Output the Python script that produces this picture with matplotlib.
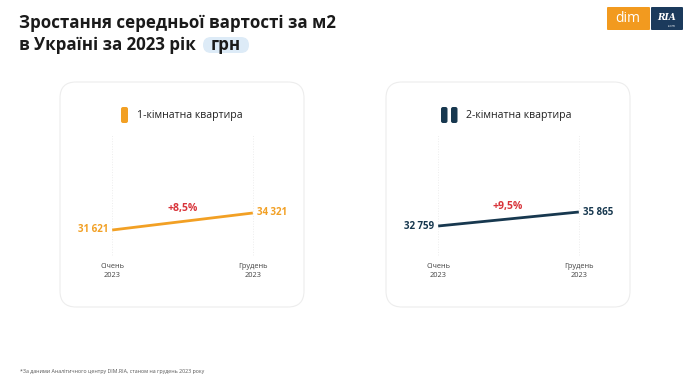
import matplotlib
matplotlib.use("Agg")
import matplotlib.pyplot as plt
from matplotlib.patches import FancyBboxPatch

# data
periods = ["Січень\n2023", "Грудень\n2023"]
one_room = [31621, 34321]
two_room = [32759, 35865]
one_room_growth = "+8,5%"
two_room_growth = "+9,5%"
series_names = ["1-кімнатна квартира", "2-кімнатна квартира"]

ORANGE = "#F2A024"
NAVY = "#17384F"
RED = "#D8343A"
GRAY = "#444444"

plt.rcParams['font.family'] = ['Open Sans', 'DejaVu Sans']


def fmt(v):
    return f"{v:,}".replace(",", " ")


fig = plt.figure(figsize=(6.9, 3.89), dpi=100)
fig.patch.set_facecolor("white")

# background axes in pixel coordinates
bg = fig.add_axes([0, 0, 1, 1])
bg.set_xlim(0, 690)
bg.set_ylim(389, 0)
bg.axis("off")

bg.text(19, 23, "Зростання середньої вартості за м2", fontsize=12.2,
        fontweight="bold", color="#1a1a1a", va="center", ha="left")
bg.text(19, 45, "в Україні за 2023 рік", fontsize=12.2,
        fontweight="bold", color="#1a1a1a", va="center", ha="left")
bg.add_patch(FancyBboxPatch((203, 37), 46, 16,
                            boxstyle="round,pad=0,rounding_size=8",
                            fc="#DDEBF7", ec="none"))
bg.text(226, 45, "грн", fontsize=12.2, fontweight="bold", color="#1a1a1a",
        va="center", ha="center")

# logo
bg.add_patch(FancyBboxPatch((607, 7), 43, 23, boxstyle="round,pad=0,rounding_size=1",
                            fc="#F29A1F", ec="none"))
bg.text(628, 18, "dim", fontsize=10, color="white", ha="center", va="center")
bg.add_patch(FancyBboxPatch((651, 7), 32, 23, boxstyle="round,pad=0,rounding_size=1",
                            fc="#1B3A5C", ec="none"))
bg.text(667, 17, "RIA", fontsize=6.5, color="white", ha="center", va="center",
        family="DejaVu Serif", fontweight="bold", style="italic")
bg.text(672, 25.5, ".com", fontsize=2.5, color="white", ha="center", va="center")

# cards
for x0 in (60, 386):
    bg.add_patch(FancyBboxPatch((x0, 82), 244, 225,
                                boxstyle="round,pad=0,rounding_size=16",
                                fc="white", ec="#EDEDED", lw=0.8))

# legend markers
bg.add_patch(FancyBboxPatch((121, 107), 7, 16, boxstyle="round,pad=0,rounding_size=2",
                            fc=ORANGE, ec="none"))
bg.text(137, 115, series_names[0], fontsize=7.6, color="#222222", va="center")
for xm in (441, 451):
    bg.add_patch(FancyBboxPatch((xm, 107), 6.5, 16, boxstyle="round,pad=0,rounding_size=2",
                                fc=NAVY, ec="none"))
bg.text(466, 115, series_names[1], fontsize=7.6, color="#222222", va="center")

bg.text(20, 371, "*За даними Аналітичного центру DIM.RIA, станом на грудень 2023 року",
        fontsize=3.8, color="#555555", va="center")


def draw_panel(rect, values, ylim, color, growth, gx, gy):
    ax = fig.add_axes(rect)
    ax.set_xlim(-0.3, 1.3)
    ax.set_ylim(*ylim)
    ax.axis("off")
    ax.patch.set_alpha(0)
    xs = [0, 1]
    for x in xs:
        ax.axvline(x, ymin=0.04, ymax=0.96, color="#EDEDED", lw=0.7, ls=":")
    ax.plot(xs, values, color=color, lw=2, solid_capstyle="butt")
    ax.annotate(fmt(values[0]), (0, values[0]), xytext=(-3, 0),
                textcoords="offset points", ha="right", va="center",
                fontsize=7, fontweight="bold", color=color)
    ax.annotate(fmt(values[1]), (1, values[1]), xytext=(3, 0),
                textcoords="offset points", ha="left", va="center",
                fontsize=7, fontweight="bold", color=color)
    ax.text(gx, gy, growth, transform=ax.transAxes, ha="center", va="center",
            fontsize=7.5, fontweight="bold", color=RED)
    for x, lab in zip(xs, periods):
        ax.text(x, -0.02, lab, transform=ax.get_xaxis_transform(), ha="center",
                va="top", fontsize=5.3, color=GRAY, linespacing=1.5)
    return ax


# axes rects: x px 70..295 / 396..621, y px 130..260
draw_panel([70 / 690, 1 - 260 / 389, 225 / 690, 130 / 389], one_room,
           (26857, 47500), ORANGE, one_room_growth, 0.5, 0.4)
draw_panel([396 / 690, 1 - 260 / 389, 225 / 690, 130 / 389], two_room,
           (25211, 54071), NAVY, two_room_growth, 0.495, 0.415)

fig.savefig("out.png", dpi=100, facecolor="white")
